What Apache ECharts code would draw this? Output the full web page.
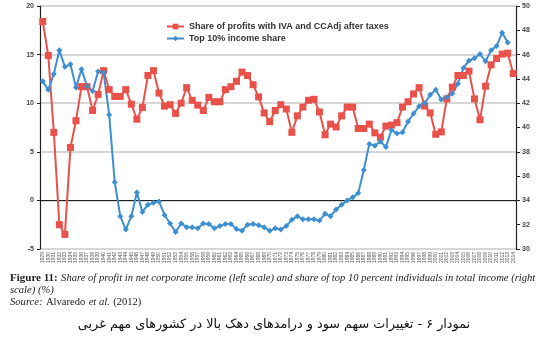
<!DOCTYPE html>
<html><head><meta charset="utf-8">
<script src="https://cdn.jsdelivr.net/npm/echarts@6/dist/echarts.min.js"></script>
<style>html,body{margin:0;padding:0;background:#fff}#c{width:548px;height:346px}</style>
</head><body><div id="c"></div>
<script>
const years = [];
for (let y = 1929; y <= 2014; y++) years.push(String(y));
const profitShare = [18.4,14.9,7.0,-2.5,-3.5,5.45,8.2,11.7,11.7,9.25,10.9,13.35,11.4,10.7,10.7,11.4,9.9,8.35,9.55,12.85,13.35,11.05,9.7,9.85,8.95,10.0,11.6,10.3,9.8,9.25,10.6,10.15,10.15,11.4,11.7,12.25,13.2,12.85,11.9,10.65,9.0,8.1,9.25,9.85,9.4,7.0,8.7,9.6,10.3,10.4,9.1,6.75,7.85,7.55,8.7,9.6,9.6,7.4,7.4,7.85,6.95,6.5,7.65,7.75,8.0,9.6,10.15,10.95,11.6,9.7,9.0,6.8,7.05,10.45,11.65,12.85,12.85,13.3,10.45,8.3,11.75,13.95,14.6,15.05,15.15,13.05];
const top10Share = [43.8,43.1,44.4,46.35,45.0,45.2,43.3,44.8,43.4,43.0,44.6,44.5,41.05,35.5,32.7,31.6,32.7,34.65,33.05,33.65,33.8,33.9,32.8,32.1,31.4,32.1,31.8,31.8,31.7,32.1,32.05,31.7,31.9,32.05,32.05,31.65,31.5,32.0,32.05,31.95,31.8,31.5,31.7,31.6,31.9,32.4,32.7,32.45,32.45,32.45,32.35,32.9,32.7,33.25,33.65,34.0,34.25,34.6,36.5,38.65,38.5,38.85,38.4,39.8,39.5,39.6,40.5,41.15,41.75,42.0,42.7,43.1,42.3,42.5,42.8,43.6,44.9,45.5,45.7,46.05,45.45,46.35,46.7,47.8,47.0];
const leftTicks = {min:-5, max:20, interval:5};
const rightTicks = {min:30, max:50, interval:2};
const names = ['Share of profits with IVA and CCAdj after taxes','Top 10% income share'];

const RED = '#e9514b', BLUE = '#3d8fd1';
const chart = echarts.init(document.getElementById('c'), null, {renderer:'canvas'});
chart.setOption({
  animation:false,
  backgroundColor:'#fff',
  grid:{left:40, right:32, top:6, bottom:97, containLabel:false},
  legend:{
    orient:'vertical', left:161, top:17, itemWidth:17, itemHeight:7, itemGap:3,
    textStyle:{fontFamily:'Liberation Sans', fontWeight:'bold', fontSize:9, color:'#333'},
    data:names
  },
  xAxis:{
    type:'category', data:years, boundaryGap:true,
    axisLine:{lineStyle:{color:'#222', width:1}},
    axisTick:{interval:0, length:3, lineStyle:{color:'#222'}},
    axisLabel:{interval:0, rotate:90, fontSize:5, color:'#555', margin:3, fontFamily:'Liberation Sans'}
  },
  yAxis:[
    {type:'value', min:leftTicks.min, max:leftTicks.max, interval:leftTicks.interval,
     axisLine:{show:true, lineStyle:{color:'#222', width:1.2}},
     axisTick:{show:true, length:3, lineStyle:{color:'#222'}},
     axisLabel:{fontSize:7, fontWeight:'bold', color:'#444', margin:6, fontFamily:'Liberation Sans'},
     splitLine:{lineStyle:{color:'#c8c8c8', width:1.5}}},
    {type:'value', min:rightTicks.min, max:rightTicks.max, interval:rightTicks.interval, position:'right',
     axisLine:{show:true, lineStyle:{color:'#222', width:1.2}},
     axisTick:{show:true, length:4, lineStyle:{color:'#222'}},
     axisLabel:{fontSize:7, fontWeight:'bold', color:'#444', margin:6, fontFamily:'Liberation Sans'},
     splitLine:{show:false}}
  ],
  series:[
    {name:names[0], type:'line', yAxisIndex:0, data:profitShare,
     symbol:'rect', symbolSize:7, lineStyle:{color:RED, width:2}, itemStyle:{color:RED}},
    {name:names[1], type:'line', yAxisIndex:1, data:top10Share,
     symbol:'diamond', symbolSize:6, lineStyle:{color:BLUE, width:2}, itemStyle:{color:BLUE}}
  ],
  graphic:[
    {type:'text', left:10, top:272, style:{
      text:'{b|Figure 11:} {i|Share of profit in net corporate income (left scale) and share of top 10 percent individuals in total income (right}\n{i|scale) (%)}\n{i|Source:} {r|Alvaredo} {i|et al.} {r|(2012)}',
      rich:{
        b:{fontFamily:'Liberation Serif', fontWeight:'bold', fontSize:11, fill:'#222', lineHeight:12},
        i:{fontFamily:'Liberation Serif', fontStyle:'italic', fontSize:10.6, fill:'#222', lineHeight:12},
        r:{fontFamily:'Liberation Serif', fontSize:10.6, fill:'#222', lineHeight:12}
      }}},
    {type:'text', left:'center', top:318, style:{
      text:'نمودار ۶ - تغییرات سهم سود و درامدهای دهک بالا در کشورهای مهم غربی',
      fontFamily:'DejaVu Sans', fontSize:12.8, fill:'#111'}}
  ]
});
</script></body></html>
